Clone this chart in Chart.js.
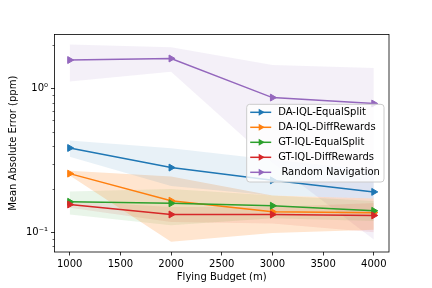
<!DOCTYPE html>
<html><head><meta charset="utf-8">
<script src="https://cdn.jsdelivr.net/npm/chart.js@4"></script>
<style>html,body{margin:0;padding:0;background:#fff}</style>
</head><body>
<canvas id="c" width="432" height="288"></canvas>
<script>
const budgets = [1000, 2000, 3000, 4000];
const seriesNames = ['DA-IQL-EqualSplit', 'DA-IQL-DiffRewards', 'GT-IQL-EqualSplit', 'GT-IQL-DiffRewards', ' Random Navigation'];
const seriesColors = ['#1f77b4', '#ff7f0e', '#2ca02c', '#d62728', '#9467bd'];

const daEqualMean  = [0.386, 0.282, 0.230, 0.191];
const daEqualUpper = [0.435, 0.385, 0.320, 0.270];
const daEqualLower = [0.335, 0.210, 0.180, 0.172];

const daDiffMean  = [0.256, 0.166, 0.139, 0.137];
const daDiffUpper = [0.268, 0.244, 0.180, 0.172];
const daDiffLower = [0.248, 0.086, 0.099, 0.104];

const gtEqualMean  = [0.163, 0.159, 0.153, 0.141];
const gtEqualUpper = [0.192, 0.200, 0.180, 0.165];
const gtEqualLower = [0.133, 0.112, 0.125, 0.120];

const gtDiffMean  = [0.156, 0.133, 0.133, 0.131];
const gtDiffUpper = [0.165, 0.150, 0.150, 0.160];
const gtDiffLower = [0.148, 0.118, 0.115, 0.100];

const randMean  = [1.58, 1.62, 0.866, 0.787];
const randUpper = [2.03, 1.94, 1.46, 1.39];
const randLower = [1.12, 1.31, 0.305, 0.089];

const xTickValues = [1000, 1500, 2000, 2500, 3000, 3500, 4000];
const yMajorValues = [0.1, 1];
const yMajorLabels = ['10\u207B\u00B9', '10\u2070'];
const yMinorValues = [0.08, 0.09, 0.2, 0.3, 0.4, 0.5, 0.6, 0.7, 0.8, 0.9, 2];

const means = [daEqualMean, daDiffMean, gtEqualMean, gtDiffMean, randMean];
const uppers = [daEqualUpper, daDiffUpper, gtEqualUpper, gtDiffUpper, randUpper];
const lowers = [daEqualLower, daDiffLower, gtEqualLower, gtDiffLower, randLower];
const bandAlpha = [0.1, 0.2, 0.1, 0.1, 0.1];

function pts(arr) { return arr.map((v, i) => ({x: budgets[i], y: v})); }
function rgba(hex, a) {
  const n = parseInt(hex.slice(1), 16);
  return `rgba(${(n >> 16) & 255},${(n >> 8) & 255},${n & 255},${a})`;
}

const datasets = [];
for (let i = 0; i < means.length; i++) {
  datasets.push({label: '_u' + i, data: pts(uppers[i]), borderWidth: 0, borderColor: 'rgba(0,0,0,0)',
    pointRadius: 0, fill: '+1', backgroundColor: rgba(seriesColors[i], bandAlpha[i]), order: 100 + i});
  datasets.push({label: '_l' + i, data: pts(lowers[i]), borderWidth: 0, borderColor: 'rgba(0,0,0,0)',
    pointRadius: 0, fill: false, order: 100 + i});
  datasets.push({label: seriesNames[i], data: pts(means[i]), borderColor: seriesColors[i], backgroundColor: seriesColors[i],
    borderWidth: 1.5, pointStyle: 'triangle', rotation: 90, pointRadius: 4, pointBorderWidth: 1,
    fill: false, order: 10 - i});
}

const FONT = {family: 'DejaVu Sans', size: 10};

const boxPlugin = {
  id: 'box',
  afterDraw(chart) {
    const {ctx, chartArea: a} = chart;
    const ys = chart.scales.y;
    ctx.save();
    ctx.strokeStyle = '#000'; ctx.lineWidth = 0.6;
    yMinorValues.forEach(v => {
      const p = Math.round(ys.getPixelForValue(v)) + 0.5;
      if (p < a.top || p > a.bottom) return;
      ctx.beginPath(); ctx.moveTo(a.left - 2, p); ctx.lineTo(a.left, p); ctx.stroke();
    });
    ctx.lineWidth = 0.8; ctx.strokeStyle = '#000';
    ctx.strokeRect(a.left, a.top, a.right - a.left, a.bottom - a.top);
    const lx = a.right - 142.3, ly = a.top + 69.8, lw = 137.3, lh = 77.7;
    ctx.beginPath();
    ctx.roundRect(lx, ly, lw, lh, 3);
    ctx.fillStyle = 'rgba(255,255,255,0.8)'; ctx.fill();
    ctx.strokeStyle = '#cccccc'; ctx.lineWidth = 1; ctx.stroke();
    ctx.font = '10px "DejaVu Sans"'; ctx.textBaseline = 'middle'; ctx.textAlign = 'left';
    seriesNames.forEach((name, i) => {
      const y = ly + 8 + 15 * i;
      ctx.strokeStyle = seriesColors[i]; ctx.lineWidth = 1.5;
      ctx.beginPath(); ctx.moveTo(lx + 3.5, y); ctx.lineTo(lx + 24.5, y); ctx.stroke();
      const cx = lx + 14, r = 4;
      ctx.fillStyle = seriesColors[i];
      ctx.beginPath();
      ctx.moveTo(cx + r, y);
      ctx.lineTo(cx - r * 0.5, y - r * 0.866);
      ctx.lineTo(cx - r * 0.5, y + r * 0.866);
      ctx.closePath(); ctx.fill();
      ctx.fillStyle = '#000';
      ctx.fillText(name, lx + 31.5, y + 0.5);
    });
    ctx.restore();
  }
};

new Chart(document.getElementById('c').getContext('2d'), {
  type: 'line',
  data: {datasets},
  plugins: [boxPlugin],
  options: {
    responsive: false,
    animation: false,
    devicePixelRatio: 1,
    layout: {padding: {left: 0, right: 43, top: 34.5, bottom: 0}},
    plugins: {legend: {display: false}, tooltip: {enabled: false}, filler: {drawTime: 'beforeDatasetsDraw'}},
    elements: {line: {tension: 0}},
    scales: {
      x: {
        type: 'linear', min: 850, max: 4150,
        afterBuildTicks: s => { s.ticks = xTickValues.map(v => ({value: v})); },
        afterFit: s => { s.height = 36; },
        grid: {display: true, drawOnChartArea: false, drawTicks: true, tickLength: 3.5, tickColor: '#000', tickWidth: 0.8},
        border: {display: false},
        ticks: {font: FONT, color: '#000', padding: 2.5, maxRotation: 0, autoSkip: false, callback: v => String(v)},
        title: {display: true, text: 'Flying Budget (m)', font: FONT, color: '#000', padding: {top: 0, bottom: 5}}
      },
      y: {
        type: 'logarithmic', min: 0.0729, max: 2.38,
        afterBuildTicks: s => { s.ticks = yMajorValues.map(v => ({value: v})); },
        afterFit: s => { s.width = 54.5; },
        grid: {display: true, drawOnChartArea: false, drawTicks: true, tickLength: 3.5, tickColor: '#000', tickWidth: 0.8},
        border: {display: false},
        ticks: {font: FONT, color: '#000', padding: 3,
          callback: v => { const k = yMajorValues.indexOf(v); return k >= 0 ? yMajorLabels[k] : ''; }},
        title: {display: true, text: 'Mean Absolute Error (ppm)', font: FONT, color: '#000', padding: {top: 7, bottom: 0}}
      }
    }
  }
});
</script>
</body></html>
